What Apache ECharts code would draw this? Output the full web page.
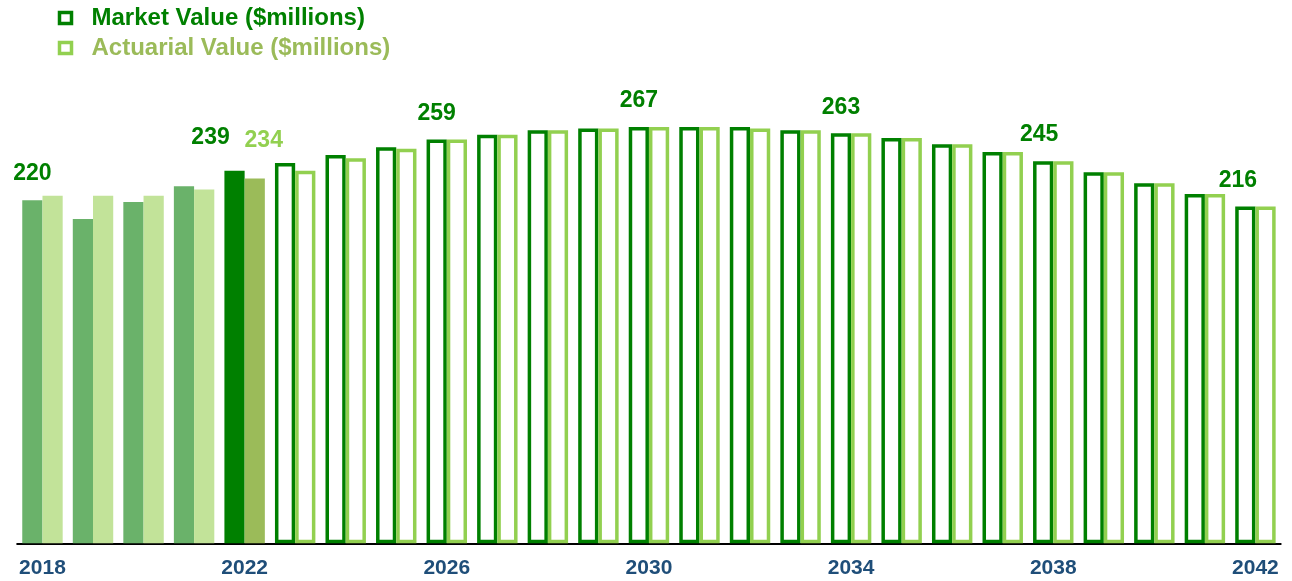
<!DOCTYPE html>
<html><head><meta charset="utf-8">
<script src="https://cdn.jsdelivr.net/npm/echarts@6/dist/echarts.min.js"></script>
<style>html,body{margin:0;padding:0;background:#fff}#chart{width:1292px;height:581px}</style>
</head><body><div id="chart"></div>
<script>
// ---- data ----
const years = ['2018','2019','2020','2021','2022','2023','2024','2025','2026','2027','2028','2029','2030',
  '2031','2032','2033','2034','2035','2036','2037','2038','2039','2040','2041','2042'];
const marketValues = [220,208,219,229,239,244,249,254,259,262,265,266,267,267,267,265,263,260,256,251,245,238,231,224,216];
const actuarialValues = [223,223,223,227,234,239,247,253,259,262,265,266,267,267,266,265,263,260,256,251,245,238,231,224,216];
const historicalYears = ['2018','2019','2020','2021'];
const currentYear = '2022';
const marketLabelYears = ['2018','2022','2026','2030','2034','2038','2042'];
const actuarialLabelYears = ['2022'];
const seriesNames = ['Market Value ($millions)', 'Actuarial Value ($millions)'];

// ---- styles ----
const FONT = '"Liberation Sans", Arial, Helvetica, sans-serif';
const DARK = '#008000';
const LIGHT = '#92D050';
const styles = {
  market: { hist: '#6AB26A', current: '#008000', outline: DARK, labelColor: DARK },
  actuarial: { hist: '#C2E399', current: '#9BBB59', outline: LIGHT, labelColor: LIGHT }
};
const labelOffsets = {
  market: { '2018': [0, -10.5], '2022': [-24, -16.5], '2026': [0, -9.5], '2030': [0, -9.5],
            '2034': [0, -9.5], '2038': [-4, -10], '2042': [-7.5, -9.5] },
  actuarial: { '2022': [9, -21.5] }
};

function buildData(values, key, labelYears) {
  const st = styles[key];
  return values.map((v, i) => {
    const y = years[i];
    const item = { value: v };
    if (historicalYears.includes(y)) {
      item.itemStyle = { color: st.hist, borderWidth: 0 };
    } else if (y === currentYear) {
      item.itemStyle = { color: st.current, borderWidth: 0 };
    }
    if (labelYears.includes(y)) {
      item.label = {
        show: true, position: 'top', distance: 5,
        offset: labelOffsets[key][y] || [0, 0],
        color: st.labelColor, fontSize: 23, fontWeight: 'bold', fontFamily: FONT
      };
    }
    return item;
  });
}

const chart = echarts.init(document.getElementById('chart'), null, { renderer: 'canvas' });
chart.setOption({
  animation: false,
  backgroundColor: '#ffffff',
  legend: {
    orient: 'vertical', left: 57.75, top: 6, padding: 0,
    itemWidth: 12, itemHeight: 11, itemGap: 6,
    selectedMode: false,
    data: [
      { name: seriesNames[0], icon: 'rect',
        itemStyle: { color: '#ffffff', borderColor: DARK, borderWidth: 3.5 },
        textStyle: { color: DARK } },
      { name: seriesNames[1], icon: 'rect',
        itemStyle: { color: '#ffffff', borderColor: LIGHT, borderWidth: 3.5 },
        textStyle: { color: '#9BBB59' } }
    ],
    textStyle: { fontSize: 24, fontWeight: 'bold', fontFamily: FONT, padding: [0, 0, 0, 15] }
  },
  grid: { left: 17.2, right: 11.3, top: 75.6, bottom: 37.7, containLabel: false },
  xAxis: {
    type: 'category', data: years, boundaryGap: true,
    axisLine: { show: true, lineStyle: { color: '#000000', width: 2 } },
    axisTick: { show: false },
    axisLabel: { interval: 3, margin: 14, color: '#1F4E79', fontSize: 21, fontWeight: 'bold', fontFamily: FONT },
    splitLine: { show: false }
  },
  yAxis: { type: 'value', min: 0, max: 300, show: false, splitLine: { show: false } },
  series: [
    { name: seriesNames[0], type: 'bar', barGap: '0%', barCategoryGap: '20%',
      itemStyle: { color: '#ffffff', borderColor: styles.market.outline, borderWidth: 3.5 },
      data: buildData(marketValues, 'market', marketLabelYears), z: 2 },
    { name: seriesNames[1], type: 'bar', barGap: '0%', barCategoryGap: '20%',
      itemStyle: { color: '#ffffff', borderColor: styles.actuarial.outline, borderWidth: 3.5 },
      data: buildData(actuarialValues, 'actuarial', actuarialLabelYears), z: 3 }
  ]
});
</script></body></html>
